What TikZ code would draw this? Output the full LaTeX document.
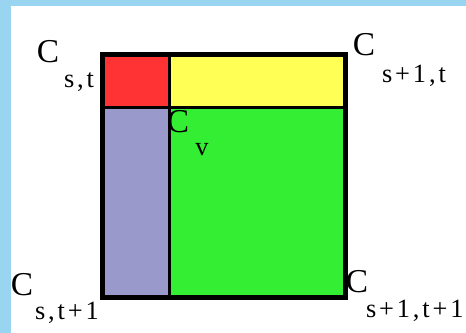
\documentclass[tikz,border=0pt]{standalone}
\usepackage{fontspec}
\setmainfont{Liberation Serif}
\usepackage{xcolor}
\definecolor{skyframe}{RGB}{153,212,240}
\definecolor{cellred}{RGB}{255,51,51}
\definecolor{cellyellow}{RGB}{255,255,85}
\definecolor{celllav}{RGB}{153,153,204}
\definecolor{cellgreen}{RGB}{51,238,51}

\begin{document}
\begin{tikzpicture}[x=0.02cm,y=-0.02cm,
    corner/.style={font=\fontsize{19}{20}\selectfont, inner sep=0pt},
    index/.style={font=\fontsize{15}{16}\selectfont\addfontfeature{LetterSpace=11}, inner sep=0pt}]
        \useasboundingbox (0,0) rectangle (466,333);
        \fill[skyframe] (0,0) rectangle (466,333);
        \fill[white] (11,6) rectangle (466,333);

        % the four cells
        \fill[cellred] (102,54) rectangle (169,108);
        \fill[cellyellow] (169,54) rectangle (346,108);
        \fill[celllav] (102,108) rectangle (169,298);
        \fill[cellgreen] (169,108) rectangle (346,298);
        \draw[line width=0.06cm] (169,54) -- (169,298);
        \draw[line width=0.06cm] (102,108) -- (346,108);
        \draw[line width=0.1cm] (102.5,54.5) rectangle (345.5,297.5);

        % corner labels
        \node[corner] (cst) at (48,52) {C};
        \node[index] (cst-sub) at (79,82) {s,t};
        \node[corner] (cs1t) at (364,45) {C};
        \node[index] (cs1t-sub) at (414,76) {s+1,t};
        \node[corner] (cst1) at (22,285) {C};
        \node[index] (cst1-sub) at (67,313) {s,t+1};
        \node[corner] (cs1t1) at (357,282) {C};
        \node[index, anchor=east] (cs1t1-sub) at (464,311) {s+1,t+1};

        % the point inside
        \node[corner] (cv) at (178,122) {C};
        \node[index] (cv-sub) at (202,150) {v};
\end{tikzpicture}
\end{document}
